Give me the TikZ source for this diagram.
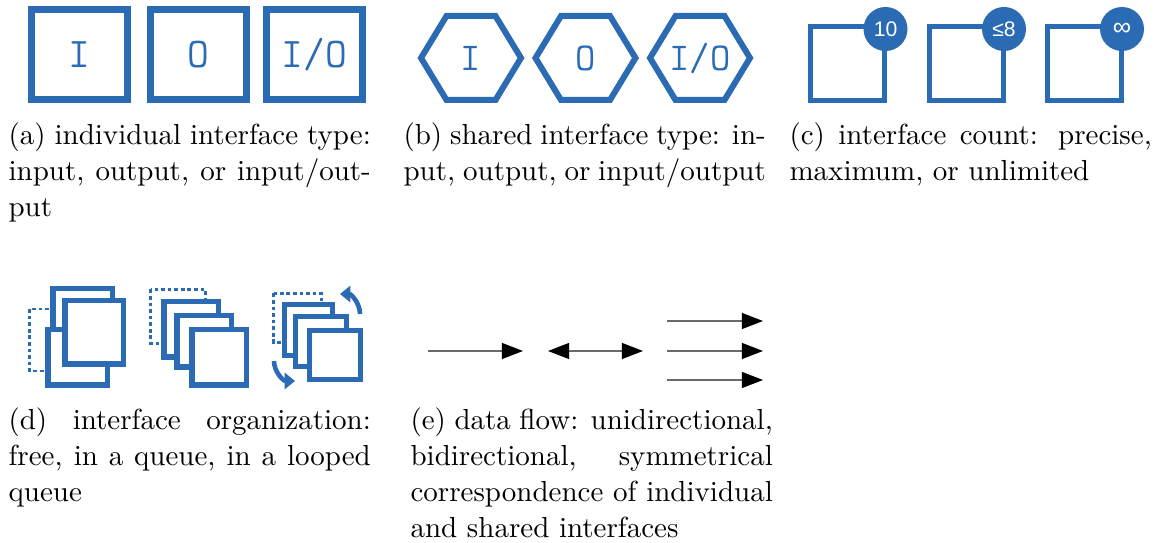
\documentclass[tikz,border=0pt]{standalone}
\usepackage{fontspec}
\newfontfamily\badgefont{Liberation Sans}
\usetikzlibrary{arrows.meta}
\definecolor{ib}{RGB}{43,107,180}
\definecolor{ln}{RGB}{105,105,105}
\newcommand{\capline}[1]{\makebox[126.8pt][s]{#1}}
\newcommand{\capfont}{\fontsize{10.15}{12.6}\selectfont}
\begin{document}
\begin{tikzpicture}[x=0.35pt,y=-0.35pt,
  lbl/.style={text=ib,font=\ttfamily\fontsize{13.8}{13.8}\selectfont,inner sep=0},
  sqa/.style={draw=ib,line width=2.45pt,minimum width=33.6pt,minimum height=31.5pt,inner sep=0,
    text=ib,font=\ttfamily\fontsize{14.8}{14.8}\selectfont},
  hexa/.style={draw=ib,line width=2.1pt,line join=miter},
  sqc/.style={draw=ib,line width=1.75pt,minimum size=25.9pt,inner sep=0},
  badge/.style={circle,fill=ib,minimum size=15.4pt,inner sep=0,text=white,
    font=\badgefont\fontsize{7.4}{7.4}\selectfont},
  sqd/.style={draw=ib,line width=1.925pt,fill=white},
  sql/.style={draw=ib,line width=1.75pt,fill=white},
  dsh/.style={draw=ib,line width=1pt,dash pattern=on 1.3pt off 1pt},
  loopar/.style={draw=ib,line width=1.6pt,-{Triangle[length=3.6pt,width=5.6pt]}},
  flow/.style={draw=ln,line width=0.45pt,-{Triangle[length=7.4pt,width=5.6pt,color=black]}},
  flow2/.style={draw=ln,line width=0.45pt,{Triangle[length=7.4pt,width=5.6pt,color=black]}-{Triangle[length=7.4pt,width=5.6pt,color=black]}},
  captxt/.style={anchor=base west,inner sep=0,font=\capfont}]
\useasboundingbox (0,0) rectangle (1160,543);

% (a) individual interface type
\node[sqa] (a1) at (79.5,54.5) {I};
\node[sqa] (a2) at (198.5,54.5) {O};
\node[sqa] (a3) at (314.5,54.5) {I/O};

% (b) shared interface type
\foreach \cx in {471,585.5,700}{
  \draw[hexa] (\cx-50,58) -- (\cx-24.5,16) -- (\cx+24.5,16) -- (\cx+50,58)
     -- (\cx+24.5,100) -- (\cx-24.5,100) -- cycle;
}
\node[lbl] (b1) at (471,58) {I};
\node[lbl] (b2) at (585.5,58) {O};
\node[lbl] (b3) at (700,58) {I/O};

% (c) interface count
\node[sqc] (c1) at (847.5,63.5) {};
\node[sqc] (c2) at (966,63.5) {};
\node[sqc] (c3) at (1084,63.5) {};
\node[badge] (c1b) at (885.5,29) {10};
\node[badge] (c2b) at (1004,29) {≤8};
\node[badge,font=\badgefont\fontsize{9}{9}\selectfont] (c3b) at (1122,29) {∞};

% (d) interface organization: free
\draw[dsh] (95,309) -- (29.5,309) -- (29.5,371) -- (95,371);
\draw[sqd] (52.75,288.75) rectangle (112.25,352.25);
\draw[sqd] (47.75,329.75) rectangle (107.25,385.25);
\draw[sqd] (64.75,300.75) rectangle (123.25,364.25);
% queue
\draw[dsh] (150.5,289.5) rectangle (205.5,343.5);
\draw[sqd] (163.75,301.75) rectangle (218.25,357.25);
\draw[sqd] (176.75,315.75) rectangle (231.25,367.25);
\draw[sqd] (191.75,329.75) rectangle (246.25,385.25);
% looped queue
\draw[dsh] (273.5,293.5) rectangle (321.5,342.5);
\draw[sql] (284.5,304.5) rectangle (332.5,355.5);
\draw[sql] (295.5,316.5) rectangle (346.5,366.5);
\draw[sql] (309.5,330.5) rectangle (360.5,379.5);
\coordinate (l1s) at (360,314);
\coordinate (l1e) at (340,294);
\draw[loopar] (l1s) .. controls (360,303) and (351,294) .. (l1e);
\coordinate (l2s) at (274,361);
\coordinate (l2e) at (295,381);
\draw[loopar] (l2s) .. controls (274,372) and (283.5,381) .. (l2e);

% (e) data flow
\coordinate (e1s) at (428,351); \coordinate (e1e) at (523,351);
\coordinate (e2s) at (548,351); \coordinate (e2e) at (643,351);
\coordinate (e3s) at (667,321); \coordinate (e3e) at (763,321);
\coordinate (e4s) at (667,351); \coordinate (e4e) at (763,351);
\coordinate (e5s) at (667,380); \coordinate (e5e) at (763,380);
\draw[flow] (e1s) -- (e1e);
\draw[flow2] (e2s) -- (e2e);
\draw[flow] (e3s) -- (e3e);
\draw[flow] (e4s) -- (e4e);
\draw[flow] (e5s) -- (e5e);

% captions
\node[captxt] (capa) at (8,145) {\parbox[t]{126.8pt}{\capfont\capline{(a) individual interface type:}\\\capline{input, output, or input/out-}\\put}};
\node[captxt] (capb) at (403,145) {\parbox[t]{126.8pt}{\capfont\capline{(b) shared interface type: in-}\\put, output, or input/output}};
\node[captxt] (capc) at (789,145) {\parbox[t]{126.8pt}{\capfont\capline{(c) interface count: precise,}\\maximum, or unlimited}};
\node[captxt] (capd) at (8,430) {\parbox[t]{126.8pt}{\capfont\capline{(d) interface organization:}\\\capline{free, in a queue, in a looped}\\queue}};
\node[captxt] (cape) at (410,430) {\parbox[t]{126.8pt}{\capfont\capline{(e) data flow: unidirectional,}\\\capline{bidirectional, symmetrical}\\\capline{correspondence of individual}\\and shared interfaces}};
\end{tikzpicture}
\end{document}
